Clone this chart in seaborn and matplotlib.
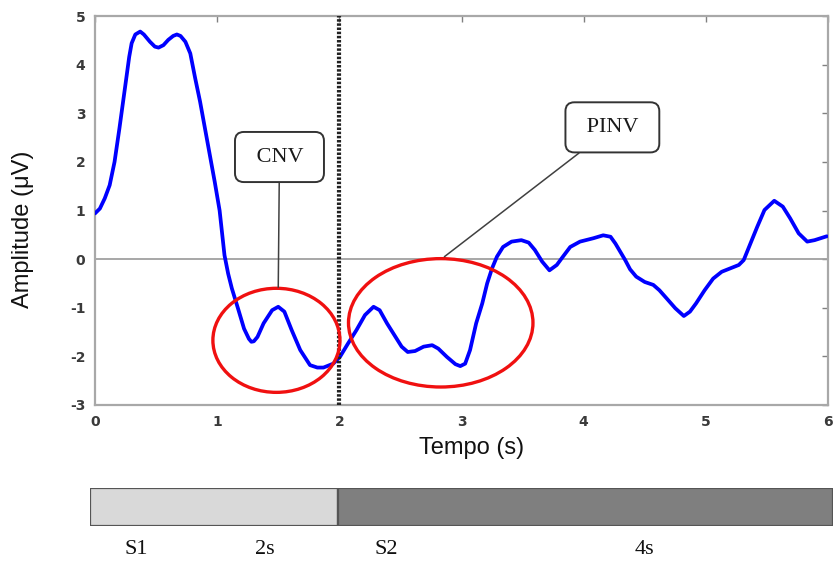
import matplotlib
matplotlib.use("Agg")
import matplotlib.pyplot as plt
from matplotlib.patches import Ellipse
import seaborn as sns
import pandas as pd

# ---- data ----
tempo = [0.00, 0.04, 0.08, 0.12, 0.16, 0.20, 0.23, 0.26, 0.28, 0.30, 0.33, 0.37, 0.40, 0.45,
         0.49, 0.52, 0.56, 0.60, 0.64, 0.67, 0.70, 0.74, 0.78, 0.82, 0.86, 0.90, 0.94, 0.98,
         1.02, 1.06, 1.09, 1.12, 1.17, 1.22, 1.26, 1.28, 1.30, 1.33, 1.38, 1.45, 1.50, 1.55,
         1.61, 1.68, 1.76, 1.82, 1.87, 1.95, 2.005, 2.07, 2.14, 2.21, 2.28, 2.33, 2.39, 2.46,
         2.51, 2.56, 2.62, 2.69, 2.76, 2.81, 2.88, 2.95, 2.99, 3.03, 3.07, 3.12, 3.17, 3.21,
         3.25, 3.29, 3.34, 3.41, 3.49, 3.55, 3.60, 3.66, 3.72, 3.78, 3.83, 3.89, 3.97, 4.08,
         4.16, 4.22, 4.26, 4.30, 4.34, 4.38, 4.43, 4.50, 4.57, 4.62, 4.68, 4.75, 4.82, 4.87,
         4.92, 4.99, 5.06, 5.13, 5.20, 5.27, 5.31, 5.36, 5.42, 5.48, 5.56, 5.63, 5.69, 5.76,
         5.83, 5.89, 5.99]
amplitude = [0.94, 1.04, 1.25, 1.52, 2.00, 2.69, 3.24, 3.79, 4.16, 4.44, 4.62, 4.68, 4.62, 4.47,
             4.37, 4.35, 4.40, 4.51, 4.59, 4.62, 4.59, 4.47, 4.23, 3.72, 3.24, 2.69, 2.14, 1.59,
             1.00, 0.08, -0.30, -0.60, -1.01, -1.43, -1.64, -1.70, -1.69, -1.60, -1.32, -1.05, -0.98, -1.08,
             -1.46, -1.87, -2.18, -2.23, -2.23, -2.15, -2.01, -1.74, -1.46, -1.15, -0.98, -1.05, -1.32, -1.60,
             -1.80, -1.91, -1.89, -1.80, -1.77, -1.84, -2.01, -2.16, -2.20, -2.15, -1.87, -1.32, -0.91, -0.50,
             -0.19, 0.05, 0.25, 0.36, 0.39, 0.34, 0.19, -0.05, -0.23, -0.12, 0.05, 0.25, 0.36, 0.43,
             0.49, 0.46, 0.32, 0.15, -0.02, -0.21, -0.36, -0.47, -0.53, -0.64, -0.81, -1.01, -1.17, -1.08,
             -0.91, -0.64, -0.40, -0.26, -0.19, -0.12, -0.02, 0.29, 0.66, 1.01, 1.20, 1.08, 0.84, 0.53,
             0.36, 0.39, 0.47]

x_ticks = [0, 1, 2, 3, 4, 5, 6]
y_ticks = [-3, -2, -1, 0, 1, 2, 3, 4, 5]
stimulus_onset = 2.0

regions = ["CNV", "PINV"]
ell_cx = [1.485, 2.83]
ell_cy = [-1.67, -1.31]
ell_w = [1.04, 1.51]
ell_h = [2.14, 2.64]
box_x = [1.51, 4.235]
box_y = [2.10, 2.71]
tip_x = [1.50, 2.86]
tip_y = [-0.58, 0.05]

segments = ["S1", "S2"]
seg_start = [0, 2]
seg_len = [2, 4]
seg_colors = ["#d9d9d9", "#7f7f7f"]
seg_labels = ["S1", "2s", "S2", "4s"]
seg_label_x = [0.37, 1.41, 2.39, 4.48]

# ---- figure ----
sns.set_style("white")
plt.rcParams["font.family"] = ["DejaVu Sans"]
plt.rcParams["axes.unicode_minus"] = False

W, H = 835, 565
fig = plt.figure(figsize=(W / 100, H / 100), dpi=100)
ax = fig.add_axes([95 / W, 1 - 405 / H, 733 / W, 389 / H])

df = pd.DataFrame({"Tempo": tempo, "Amplitude": amplitude})
sns.lineplot(data=df, x="Tempo", y="Amplitude", ax=ax, color="#0000ff", lw=2.7,
             solid_joinstyle="round", solid_capstyle="round", zorder=3)

ax.axhline(0, color="#a0a0a0", lw=1.3, zorder=1)
ax.axvline(stimulus_onset, color="#222222", lw=3, linestyle=(0, (0.6, 0.4)), zorder=4)

ax.set_xlim(0, 6)
ax.set_ylim(-3, 5)
ax.set_xticks(x_ticks)
ax.set_yticks(y_ticks)
ax.tick_params(direction="in", length=4, width=1, color="#808080",
               top=True, right=True, labelsize=10, labelcolor="#3a3a3a", pad=7)
for lab in ax.get_xticklabels() + ax.get_yticklabels():
    lab.set_fontweight("bold")
for s in ax.spines.values():
    s.set_color("#a8a8a8")
    s.set_linewidth(1.6)

ax.set_xlabel("Tempo (s)", fontsize=17, family=["Liberation Sans", "DejaVu Sans"],
              va="top", color="#111111")
ax.set_ylabel("Amplitude (μV)", fontsize=17, family=["Liberation Sans", "DejaVu Sans"],
              color="#111111")
ax.xaxis.set_label_coords(0.514, -0.082)
ax.yaxis.set_label_coords(-0.083, 0.452)

for i, name in enumerate(regions):
    ax.add_patch(Ellipse((ell_cx[i], ell_cy[i]), ell_w[i], ell_h[i], fill=False,
                         edgecolor="#f01010", lw=2.4, zorder=5))
    ax.annotate(" " + name + " ", xy=(tip_x[i], tip_y[i]), xytext=(box_x[i], box_y[i]),
                ha="center", va="center", fontsize=16,
                family=["Liberation Serif", "DejaVu Serif"], color="#1a1a1a",
                bbox=dict(boxstyle="round,pad=0.7,rounding_size=0.4", fc="white",
                          ec="#333333", lw=1.4),
                arrowprops=dict(arrowstyle="-", color="#404040", lw=1.1,
                                shrinkA=0, shrinkB=0),
                zorder=6)

# ---- stimulus bar ----
bx = fig.add_axes([90 / W, 1 - 526 / H, 743 / W, 38 / H])
for i in range(len(segments)):
    bx.barh(0, seg_len[i], left=seg_start[i], height=1, color=seg_colors[i],
            edgecolor="#555555", lw=1.6)
bx.set_xlim(0, 6)
bx.set_ylim(-0.5, 0.5)
bx.axis("off")
for lab, xx in zip(seg_labels, seg_label_x):
    bx.text(xx, -1.12, lab, ha="center", va="center", fontsize=16,
            family=["Liberation Serif", "DejaVu Serif"], color="#111111")

fig.savefig("out.png", dpi=100, facecolor="white")
